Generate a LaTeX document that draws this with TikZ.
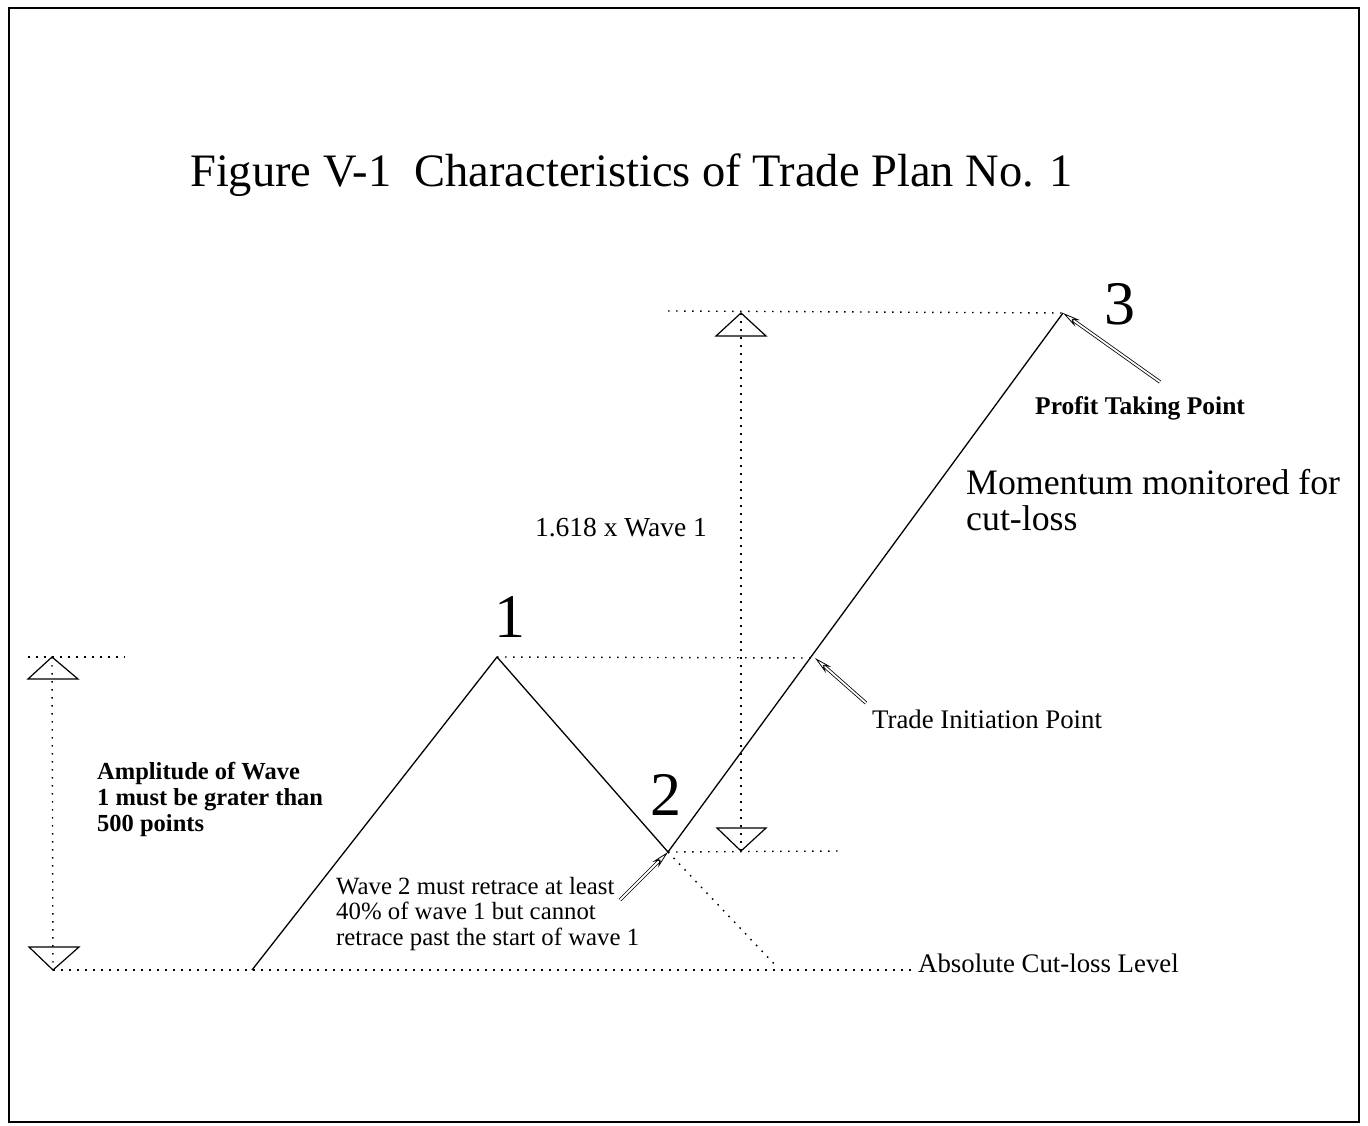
\documentclass[tikz,border=0pt]{standalone}
\usepackage{fontspec}
\setmainfont{Liberation Serif}
\usetikzlibrary{arrows.meta,calc}
\begin{document}
\begin{tikzpicture}[x=1pt,y=-1pt,
  wave/.style={line width=1.3pt},
  dots/.style={line width=1.4pt, dash pattern=on 1.6pt off 6.4pt},
  marker/.style={line width=1.2pt, fill=white},
  callout/.style={double, double distance=1.8pt, line width=0.8pt, -{Stealth[open,length=18pt,width=8pt]}},
  lbl/.style={inner sep=0pt, anchor=base west, align=left},
  txt/.style={font=\fontsize{26.8}{26.8}\selectfont},
  txtb/.style={font=\bfseries\fontsize{25.5}{25.5}\selectfont},
  num/.style={inner sep=0pt, anchor=base, font=\fontsize{62}{62}\selectfont},
]
\useasboundingbox (0,0) rectangle (1368,1126);
\fill[white] (0,0) rectangle (1368,1126);
\draw[line width=2.4pt] (9,8) rectangle (1359,1122);

% wave points
\coordinate (w0) at (252,970);
\coordinate (w1) at (497,657);
\coordinate (w2) at (668,852);
\coordinate (w3) at (1063,313);
\coordinate (ti) at (815,658);
\coordinate (cutend) at (778,968);

% dotted reference lines
\coordinate (l1a) at (28,657);
\coordinate (l1b) at (125,657);
\coordinate (lca) at (53,970);
\coordinate (lcb) at (915,970);
\coordinate (l3a) at (668,311);
\coordinate (l2b) at (838,851);
\draw[dots] (l1a) -- (l1b);
\draw[dots] (w1) -- (ti);
\draw[dots] (l3a) -- (w3);
\draw[dots] (w2) -- (l2b);
\draw[dots] (lca) -- (lcb);
\draw[dots] (w2) -- (cutend);

% amplitude markers
\coordinate (aTop) at (52,657);
\coordinate (aBot) at (53,970);
\coordinate (fTop) at (741,313);
\coordinate (fBot) at (741,851);
\draw[marker] (aTop) -- ++(-24,22) -- ++(50,0) -- cycle;
\draw[marker] (aBot) -- ++(-24,-23) -- ++(50,0) -- cycle;
\draw[marker] (fTop) -- ++(-25,23) -- ++(50,0) -- cycle;
\draw[marker] (fBot) -- ++(-24,-23) -- ++(49,0) -- cycle;
\draw[dots] (aTop) -- (aBot);
\draw[dots] (fTop) -- (fBot);

% waves
\draw[wave] (w0) -- (w1) -- (w2) -- (w3);

% labels
\node[lbl, font=\fontsize{46.5}{46.5}\selectfont] (title) at (190,187) {Figure V-1\ \ Characteristics of Trade Plan No. 1};
\node[num] (n1) at (510,637) {1};
\node[num] (n2) at (666,815) {2};
\node[num] (n3) at (1120,324) {3};
\node[lbl, font=\fontsize{27.5}{27.5}\selectfont, anchor=base] (fib) at (621,536) {1.618 x Wave 1};
\node[lbl, font=\bfseries\fontsize{24.5}{26}\selectfont] (amp) at (97,831) {Amplitude of Wave\\1 must be grater than\\500 points};
\node[lbl, font=\fontsize{24.8}{25.5}\selectfont] (ret) at (336,945) {Wave 2 must retrace at least\\40\% of wave 1 but cannot\\retrace past the start of wave 1};
\node[lbl, txt] (acl) at (918,972) {Absolute Cut-loss Level};
\node[lbl, txt] (tip) at (872,728) {Trade Initiation Point};
\node[lbl, txtb] (ptp) at (1035,414) {Profit Taking Point};
\node[lbl, font=\fontsize{35.8}{36}\selectfont] (mom) at (966,530) {Momentum monitored for\\cut-loss};

% callout arrows
\coordinate (c3) at (1160,382);
\coordinate (cti) at (866,703);
\coordinate (c2) at (620,900);
\draw[callout] (c3) -- (w3);
\draw[callout] (cti) -- (ti);
\draw[callout] (c2) -- (w2);
\end{tikzpicture}
\end{document}
